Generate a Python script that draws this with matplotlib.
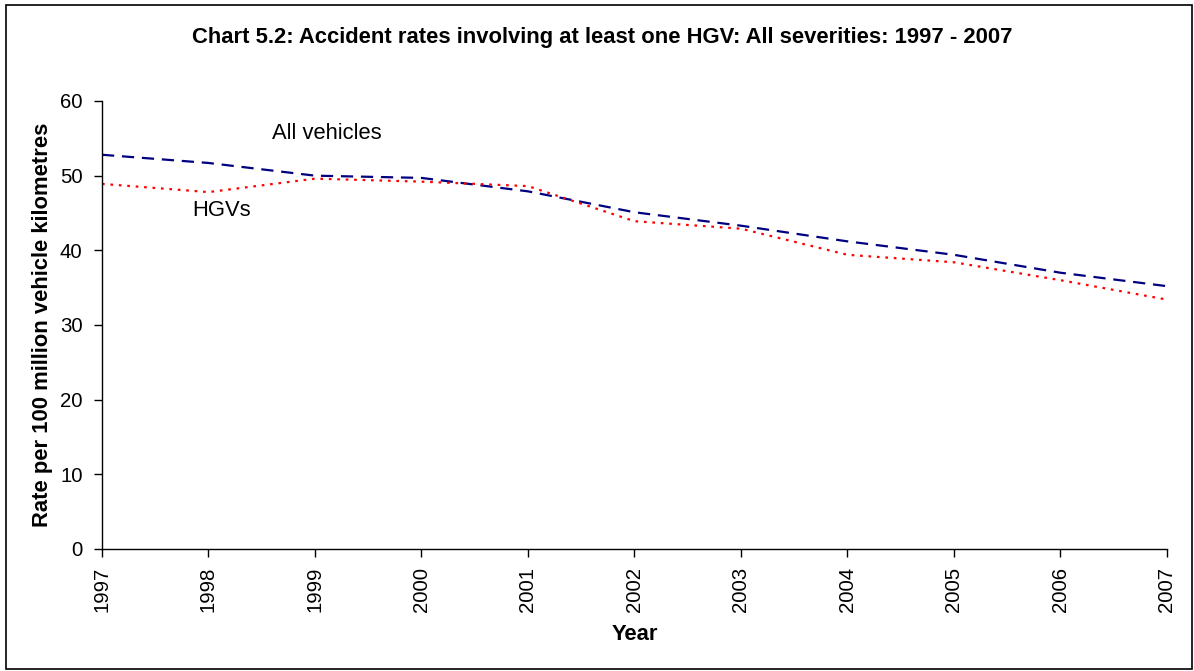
import matplotlib
matplotlib.use("Agg")
import matplotlib.pyplot as plt
from matplotlib.patches import Rectangle

plt.rcParams["font.family"] = ["Liberation Sans", "DejaVu Sans"]

years = [1997, 1998, 1999, 2000, 2001, 2002, 2003, 2004, 2005, 2006, 2007]
all_vehicles = [52.8, 51.7, 50.0, 49.7, 47.9, 45.1, 43.3, 41.2, 39.4, 37.0, 35.2]
hgvs = [48.9, 47.8, 49.6, 49.2, 48.6, 43.9, 42.9, 39.4, 38.4, 36.0, 33.4]

fig = plt.figure(figsize=(11.94, 6.71), dpi=100, facecolor="white")
ax = fig.add_axes([102 / 1194, 1 - 549 / 671, (1167 - 102) / 1194, (549 - 101) / 671])

ax.plot(years, all_vehicles, color="#000080", linewidth=1.6, linestyle=(0, (5.5, 3.5)))
ax.plot(years, hgvs, color="#ff0000", linewidth=1.6, linestyle=(0, (1.2, 2.6)))

ax.set_xlim(years[0], years[-1])
ax.set_ylim(0, 60)
ax.set_yticks(range(0, 61, 10))
ax.set_xticks(years)
ax.set_xticklabels([str(y) for y in years], rotation=90, fontsize=14.7)
ax.tick_params(axis="y", labelsize=14.7, length=6, direction="out", width=1, pad=8)
ax.tick_params(axis="x", length=6, direction="out", width=1, pad=7)
for side in ("top", "right"):
    ax.spines[side].set_visible(False)
for side in ("left", "bottom"):
    ax.spines[side].set_linewidth(1)

ax.text(1998.6, 55.7, "All vehicles", fontsize=15.8, ha="left", va="center")
ax.text(1997.85, 45.4, "HGVs", fontsize=15.8, ha="left", va="center")

ax.set_ylabel("Rate per 100 million vehicle kilometres", fontsize=15.8, fontweight="bold", labelpad=5)
ax.set_xlabel("Year", fontsize=15.8, fontweight="bold", labelpad=8)

fig.text(602 / 1194, 1 - 38 / 671, "Chart 5.2: Accident rates involving at least one HGV: All severities: 1997 - 2007",
         ha="center", va="center", fontsize=15.8, fontweight="bold")

fig.patches.append(Rectangle((6 / 1194, 2 / 671), 1186 / 1194, 664 / 671, transform=fig.transFigure,
                             fill=False, edgecolor="black", linewidth=1.2))

fig.savefig("out.png", dpi=100, facecolor="white")
